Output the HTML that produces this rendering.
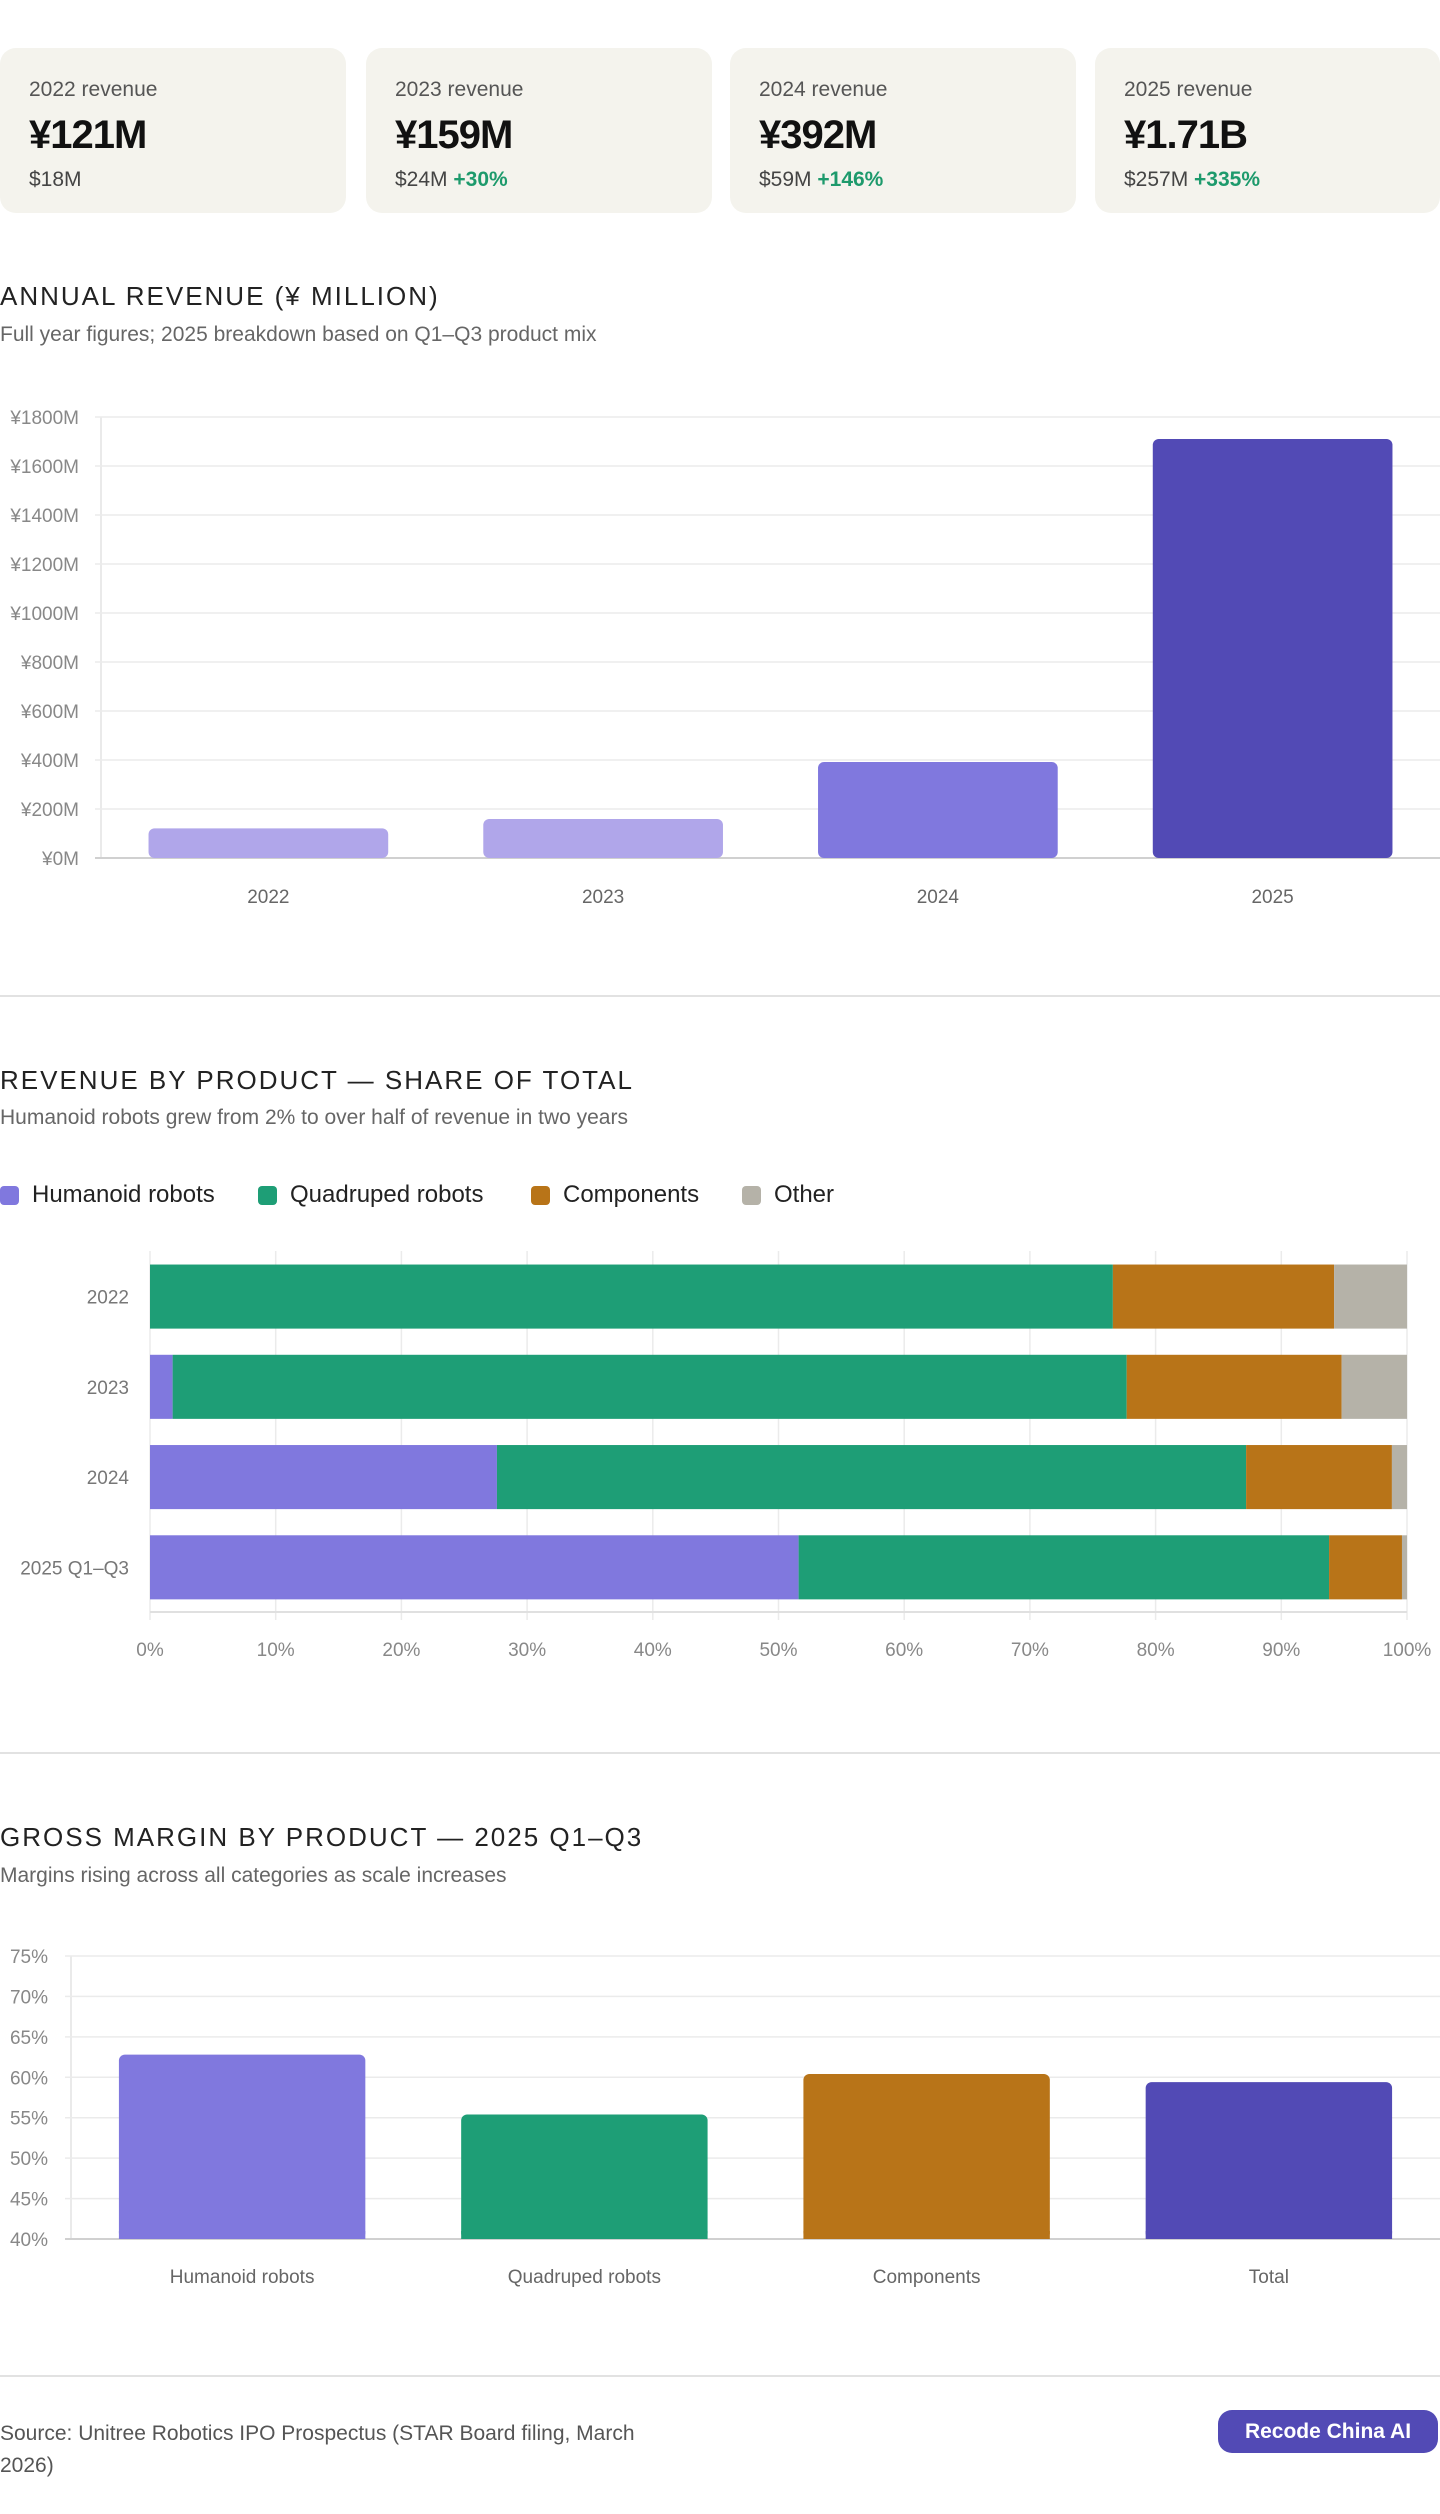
<!DOCTYPE html>
<html><head><meta charset="utf-8">
<style>
*{box-sizing:border-box;margin:0;padding:0}
body{width:1440px;height:2514px;background:#fff;font-family:"Liberation Sans",sans-serif;position:relative;overflow:hidden;color:#222}
.card{position:absolute;top:48px;width:346px;height:165px;background:#f4f3ed;border-radius:16px}
.card .l{position:absolute;top:30px;left:29px;font-size:21px;color:#555}
.card .v{position:absolute;top:65px;left:29px;font-size:40px;font-weight:bold;color:#111;letter-spacing:-1px}
.card .s{position:absolute;top:120px;left:29px;font-size:21px;color:#444}
.card .s b{color:#1d9a6c}
.title{position:absolute;left:0;font-size:26px;letter-spacing:2px;color:#222}
.sub{position:absolute;left:0;font-size:21px;color:#666}
.div{position:absolute;left:0;width:1440px;height:2px;background:#e2e2e2}
.leg{position:absolute;top:1181px;font-size:24px;color:#222;display:flex;align-items:center}
.leg i{display:inline-block;width:19px;height:19px;border-radius:4px;margin-right:13px}
svg text{font-family:"Liberation Sans",sans-serif}
</style></head><body>
<div class="card" style="left:0"><div class="l">2022 revenue</div><div class="v">¥121M</div><div class="s">$18M</div></div>
<div class="card" style="left:366px"><div class="l">2023 revenue</div><div class="v">¥159M</div><div class="s">$24M <b>+30%</b></div></div>
<div class="card" style="left:730px"><div class="l">2024 revenue</div><div class="v">¥392M</div><div class="s">$59M <b>+146%</b></div></div>
<div class="card" style="left:1095px;width:345px"><div class="l">2025 revenue</div><div class="v">¥1.71B</div><div class="s">$257M <b>+335%</b></div></div>

<div class="title" style="top:281px">ANNUAL REVENUE (¥ MILLION)</div>
<div class="sub" style="top:323px">Full year figures; 2025 breakdown based on Q1–Q3 product mix</div>
<svg id="c1" style="position:absolute;left:0;top:0" width="1440" height="960"></svg>
<div class="div" style="top:995px"></div>

<div class="title" style="top:1065px">REVENUE BY PRODUCT — SHARE OF TOTAL</div>
<div class="sub" style="top:1106px">Humanoid robots grew from 2% to over half of revenue in two years</div>
<div class="leg" style="left:0"><i style="background:#8078de"></i>Humanoid robots</div>
<div class="leg" style="left:258px"><i style="background:#1e9e76"></i>Quadruped robots</div>
<div class="leg" style="left:531px"><i style="background:#b87418"></i>Components</div>
<div class="leg" style="left:742px"><i style="background:#b5b2a8"></i>Other</div>
<svg id="c2" style="position:absolute;left:0;top:1200px" width="1440" height="480"></svg>
<div class="div" style="top:1752px"></div>

<div class="title" style="top:1822px">GROSS MARGIN BY PRODUCT — 2025 Q1–Q3</div>
<div class="sub" style="top:1864px">Margins rising across all categories as scale increases</div>
<svg id="c3" style="position:absolute;left:0;top:1900px" width="1440" height="420"></svg>
<div class="div" style="top:2375px"></div>
<div style="position:absolute;left:0;top:2418px;width:670px;font-size:21px;line-height:32px;color:#555">Source: Unitree Robotics IPO Prospectus (STAR Board filing, March 2026)</div>
<div style="position:absolute;left:1218px;top:2410px;width:220px;height:43px;border-radius:14px;background:#524ab5;color:#fff;font-weight:bold;font-size:21px;line-height:43px;text-align:center">Recode China AI</div>

<script>
const NS="http://www.w3.org/2000/svg";
function mk(p,t,a){const e=document.createElementNS(NS,t);for(const k in a)e.setAttribute(k,a[k]);p.appendChild(e);return e;}
// Chart 1
const years1=["2022","2023","2024","2025"];
const revenue1=[121,159,392,1710];
const ticks1=[0,200,400,600,800,1000,1200,1400,1600,1800];
const colors1=["#b0a6ea","#b0a6ea","#8078de","#524ab5"];
(function(){
const s=document.getElementById('c1');const L=101,R=1440,T=417,B=858;
const y=v=>B-(v/1800)*(B-T);const bw=(R-L)/years1.length;
mk(s,'line',{x1:L,x2:L,y1:T,y2:B,stroke:'#e4e4e4','stroke-width':1.5});
ticks1.forEach(t=>{mk(s,'line',{x1:L-6,x2:R,y1:y(t),y2:y(t),stroke:t?'#ebebeb':'#d0d0d0','stroke-width':t?1.5:2});
const tx=mk(s,'text',{x:79,y:y(t)+7,'text-anchor':'end','font-size':19,fill:'#888'});tx.textContent='¥'+t+'M';});
years1.forEach((c,i)=>{const x=L+bw*i+bw*0.142,w=bw*0.716;
const r=mk(s,'rect',{x:x,y:y(revenue1[i]),width:w,height:B-y(revenue1[i]),rx:6,fill:colors1[i]});


const t=mk(s,'text',{x:L+bw*(i+.5),y:903,'text-anchor':'middle','font-size':19,fill:'#666'});t.textContent=c;});
})();
// Chart 2
const cats2=["2022","2023","2024","2025 Q1–Q3"];
const humanoid=[0,1.8,27.6,51.6];
const quadruped=[76.6,75.9,59.6,42.2];
const components=[17.6,17.1,11.6,5.8];
const other=[5.8,5.2,1.2,0.4];
const xticks2=[0,10,20,30,40,50,60,70,80,90,100];
(function(){
const s=document.getElementById('c2');const oy=1200;const L=150,R=1407,T=1251-oy,B=1612-oy;
const x=v=>L+v/100*(R-L);const bh=(B-T)/cats2.length;
xticks2.forEach(t=>{mk(s,'line',{x1:x(t),x2:x(t),y1:T,y2:B+8,stroke:'#ebebeb','stroke-width':1.5});
const tx=mk(s,'text',{x:x(t),y:1656-oy,'text-anchor':'middle','font-size':19,fill:'#888'});tx.textContent=t+'%';});
mk(s,'line',{x1:L,x2:R,y1:B,y2:B,stroke:'#e0e0e0','stroke-width':2});
const series=[[humanoid,'#8078de','humanoid'],[quadruped,'#1e9e76','quadruped'],[components,'#b87418','components'],[other,'#b5b2a8','other']];
cats2.forEach((c,i)=>{let acc=0;const yy=T+bh*i+bh*0.15,h=bh*0.71;
series.forEach(([arr,col,nm])=>{const v=arr[i];if(v>0){const r=mk(s,'rect',{x:x(acc),y:yy,width:x(acc+v)-x(acc),height:h,fill:col});

}acc+=v;});
const t=mk(s,'text',{x:129,y:yy+h/2+7,'text-anchor':'end','font-size':19,fill:'#777'});t.textContent=c;});
})();
// Chart 3
const cats3=["Humanoid robots","Quadruped robots","Components","Total"];
const margins3=[62.8,55.4,60.4,59.4];
const ticks3=[40,45,50,55,60,65,70,75];
const colors3=["#8078de","#1e9e76","#b87418","#524ab5"];
(function(){
const s=document.getElementById('c3');const oy=1900;const L=71,R=1440,T=1956-oy,B=2239-oy;
const y=v=>B-(v-40)/35*(B-T);const bw=(R-L)/cats3.length;
mk(s,'line',{x1:L,x2:L,y1:T,y2:B,stroke:'#e4e4e4','stroke-width':1.5});
ticks3.forEach(t=>{mk(s,'line',{x1:L-6,x2:R,y1:y(t),y2:y(t),stroke:t>40?'#ebebeb':'#d0d0d0','stroke-width':t>40?1.5:2});
const tx=mk(s,'text',{x:48,y:y(t)+7,'text-anchor':'end','font-size':19,fill:'#888'});tx.textContent=t+'%';});
cats3.forEach((c,i)=>{const x=L+bw*i+bw*0.14,w=bw*0.72;
const r=mk(s,'rect',{x:x,y:y(margins3[i]),width:w,height:B-y(margins3[i]),rx:6,fill:colors3[i]});


mk(s,'rect',{x:x,y:B-8,width:w,height:8,fill:colors3[i]});
const t=mk(s,'text',{x:L+bw*(i+.5),y:2283-oy,'text-anchor':'middle','font-size':19,fill:'#666'});t.textContent=c;});
})();
</script>
</body></html>
